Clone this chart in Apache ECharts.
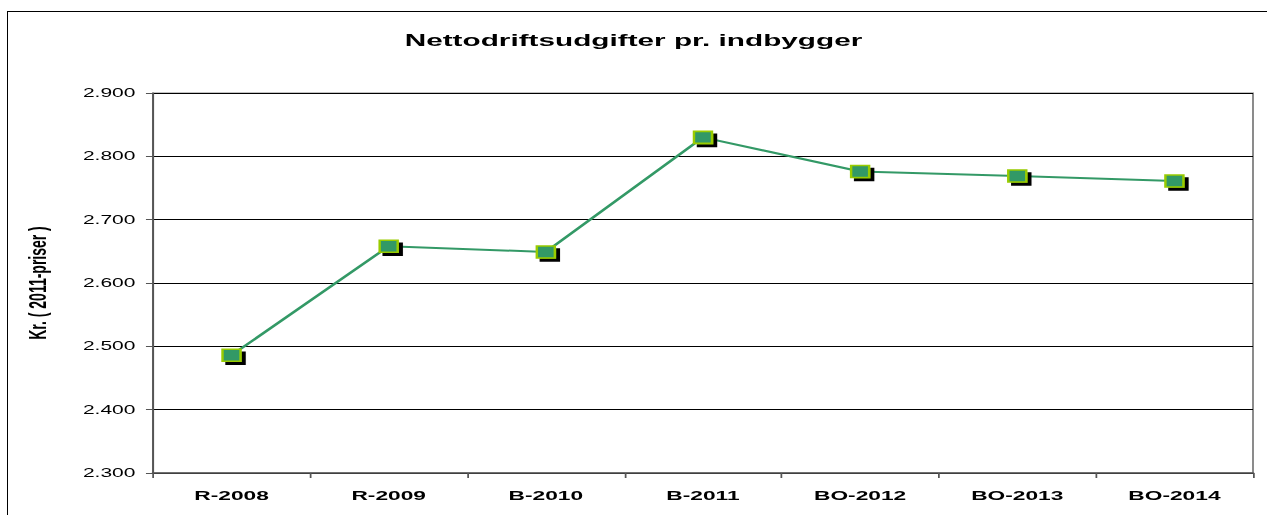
<!DOCTYPE html>
<html lang="da">
<head>
  <meta charset="UTF-8">
  <title>Nettodriftsudgifter pr. indbygger</title>
  <style>
    *{ margin: 0; padding: 0; }
    body{ width: 1267px; height: 515px; overflow: hidden; background: #fff; position: relative; }
    .frame{
      position: absolute; left: 7px; top: 11px; width: 1400px; height: 600px;
      border: 1px solid #000;
    }
    /* the reference is stretched horizontally, so draw narrow and scale */
    #chart{
      position: absolute; left: 0; top: 0;
      width: 724px; height: 515px;
      transform: scaleX(1.75); transform-origin: 0 0;
    }
  </style>
</head>
<body>
<div class="frame"></div>
<div id="chart"></div>
<script src="https://cdn.jsdelivr.net/npm/echarts@6/dist/echarts.min.js"></script>
<script>
  var categories = ['R-2008', 'R-2009', 'B-2010', 'B-2011', 'BO-2012', 'BO-2013', 'BO-2014'];
  var values = [2486, 2658, 2649, 2830, 2776, 2769, 2761];
  var yTicks = [2300, 2400, 2500, 2600, 2700, 2800, 2900];

  var myChart = echarts.init(document.getElementById('chart'), null, { renderer: 'svg' });

  // 2900 -> "2.900"
  function fmt(v) {
    return String(v).replace(/\B(?=(\d{3})+(?!\d))/g, '.');
  }

  var option = {
    animation: false,
    title: {
      text: 'Nettodriftsudgifter pr. indbygger',
      left: 'center',
      top: 27,
      textStyle: { fontFamily: 'Liberation Sans', fontSize: 17, fontWeight: 'bold', color: '#000' }
    },
    grid: {
      left: 87.4, right: 8, top: 93, bottom: 42,
      show: true, borderColor: '#888', borderWidth: 1.1
    },
    xAxis: {
      type: 'category',
      data: categories,
      boundaryGap: true,
      axisLine: { lineStyle: { color: '#555', width: 1.5 } },
      axisTick: { show: true, length: 5, lineStyle: { color: '#555' } },
      axisLabel: { margin: 16, fontFamily: 'Liberation Sans', fontSize: 13, fontWeight: 'bold', color: '#000' }
    },
    yAxis: {
      type: 'value',
      min: yTicks[0],
      max: yTicks[yTicks.length - 1],
      interval: 100,
      name: 'Kr. ( 2011-priser )',
      nameLocation: 'middle',
      nameGap: 59,
      nameTextStyle: { fontFamily: 'Liberation Sans', fontSize: 14, fontWeight: 'bold', color: '#000' },
      axisLine: { show: true, lineStyle: { color: '#555', width: 1.1 } },
      axisTick: { show: true, length: 4, lineStyle: { color: '#555' } },
      axisLabel: { margin: 10, fontFamily: 'Liberation Sans', fontSize: 12, color: '#000', formatter: fmt },
      splitLine: { lineStyle: { color: '#000', width: 1 } }
    },
    series: [{
      type: 'line',
      data: values,
      symbol: 'rect',
      symbolSize: [10.3, 12],
      lineStyle: { color: '#339966', width: 2 },
      itemStyle: {
        color: '#339966',
        borderColor: '#99cc00',
        borderWidth: 1.5,
        shadowColor: '#000',
        shadowBlur: 0,
        shadowOffsetX: 2.3,
        shadowOffsetY: 3
      }
    }]
  };

  myChart.setOption(option);
</script>
</body>
</html>
